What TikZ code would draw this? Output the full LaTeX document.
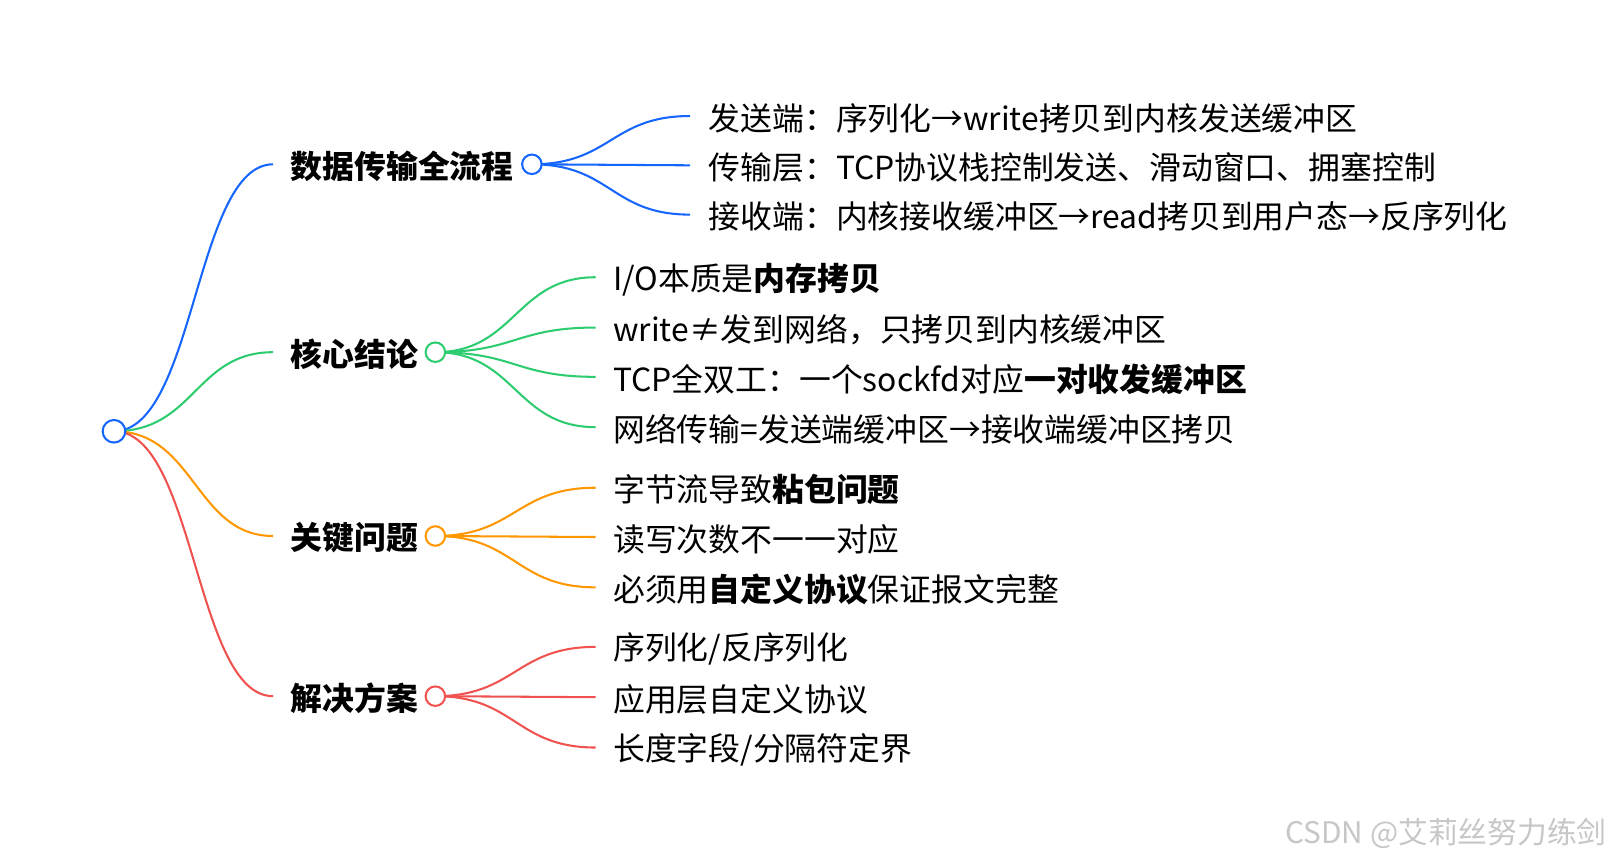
\documentclass[tikz,border=0pt]{standalone}
\usepackage{fontspec}
\setmainfont{Noto Sans CJK SC}
\begin{document}
\begin{tikzpicture}[x=1pt,y=-1pt,
  lbl/.style={anchor=west,inner sep=0pt,font=\fontsize{31}{34}\selectfont},
  head/.style={lbl,font=\fontsize{31}{34}\selectfont\bfseries},
  dot/.style={circle,draw=#1,line width=2pt,fill=white,minimum size=19pt,inner sep=0pt},
  br/.style={line width=2pt,draw=#1}]
\definecolor{cb}{HTML}{1565FF}
\definecolor{cg}{HTML}{2ECC71}
\definecolor{co}{HTML}{FF9800}
\definecolor{cr}{HTML}{F0524F}
\useasboundingbox (0,0) rectangle (1568,839);
\fill[white] (0,0) rectangle (1568,839);
\coordinate (e1) at (266,160); \coordinate (e2) at (266,343);
\coordinate (e3) at (266,522); \coordinate (e4) at (266,678);
\draw[br=cb] (111,420) .. controls (190,420) and (190,160) .. (e1);
\draw[br=cg] (111,420) .. controls (190,420) and (190,343) .. (e2);
\draw[br=co] (111,420) .. controls (190,420) and (190,522) .. (e3);
\draw[br=cr] (111,420) .. controls (190,420) and (190,678) .. (e4);
\node[dot=cb,minimum size=22pt] (root) at (111,420) {};
\node[head] (h1) at (283,162) {数据传输全流程};
\node[head] (h2) at (283,345) {核心结论};
\node[head] (h3) at (283,524) {关键问题};
\node[head] (h4) at (283,680) {解决方案};
\coordinate (s11) at (672,113); \coordinate (s12) at (672,161); \coordinate (s13) at (672,209);
\foreach \c in {s11,s12,s13}{\draw[br=cb] (518,160) .. controls (595,160) and (595,0|-\c) .. (\c);}
\node[dot=cb] (c1) at (518,160) {};
\node[lbl] (t11) at (690,115) {发送端：序列化→write拷贝到内核发送缓冲区};
\node[lbl] (t12) at (690,163) {传输层：TCP协议栈控制发送、滑动窗口、拥塞控制};
\node[lbl] (t13) at (690,211) {接收端：内核接收缓冲区→read拷贝到用户态→反序列化};
\coordinate (s21) at (580,270); \coordinate (s22) at (580,319); \coordinate (s23) at (580,367); \coordinate (s24) at (580,416);
\foreach \c in {s21,s22,s23,s24}{\draw[br=cg] (424,343) .. controls (502,343) and (502,0|-\c) .. (\c);}
\node[dot=cg] (c2) at (424,343) {};
\node[lbl] (t21) at (597,272) {I/O本质是\textbf{内存拷贝}};
\node[lbl] (t22) at (597,321) {write≠发到网络，只拷贝到内核缓冲区};
\node[lbl] (t23) at (597,369) {TCP全双工：一个sockfd对应\textbf{一对收发缓冲区}};
\node[lbl] (t24) at (597,418) {网络传输=发送端缓冲区→接收端缓冲区拷贝};
\coordinate (s31) at (580,475); \coordinate (s32) at (580,523); \coordinate (s33) at (580,572);
\foreach \c in {s31,s32,s33}{\draw[br=co] (424,522) .. controls (502,522) and (502,0|-\c) .. (\c);}
\node[dot=co] (c3) at (424,522) {};
\node[lbl] (t31) at (597,477) {字节流导致\textbf{粘包问题}};
\node[lbl] (t32) at (597,525) {读写次数不一一对应};
\node[lbl] (t33) at (597,574) {必须用\textbf{自定义协议}保证报文完整};
\coordinate (s41) at (580,630); \coordinate (s42) at (580,679); \coordinate (s43) at (580,728);
\foreach \c in {s41,s42,s43}{\draw[br=cr] (424,678) .. controls (502,678) and (502,0|-\c) .. (\c);}
\node[dot=cr] (c4) at (424,678) {};
\node[lbl] (t41) at (597,632) {序列化/反序列化};
\node[lbl] (t42) at (597,681) {应用层自定义协议};
\node[lbl] (t43) at (597,730) {长度字段/分隔符定界};
\node[anchor=east,inner sep=0pt,text=black!22,font=\fontsize{29}{32}\selectfont] (wm) at (1565,812) {CSDN @艾莉丝努力练剑};
\end{tikzpicture}
\end{document}
